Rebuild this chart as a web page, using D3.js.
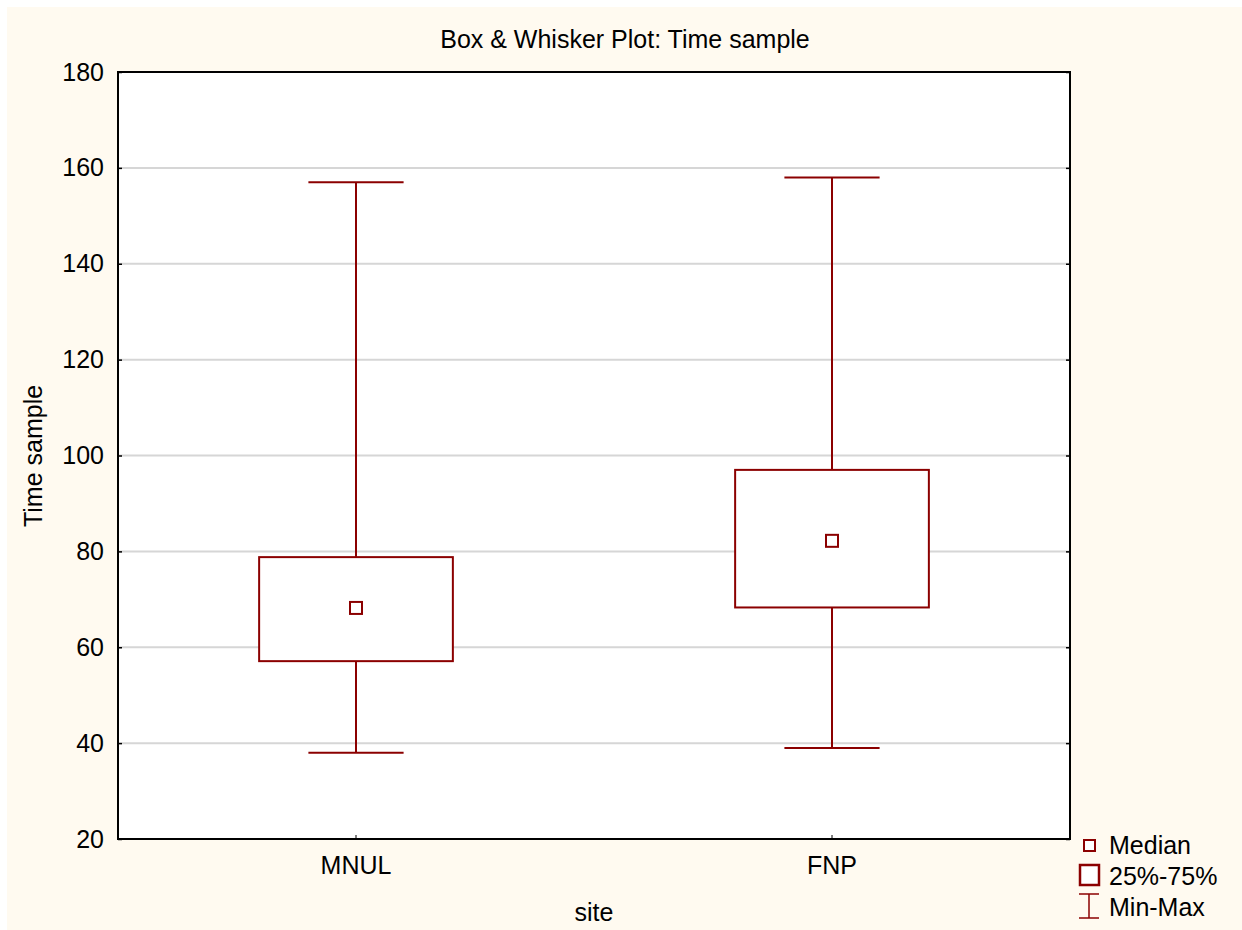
<!DOCTYPE html>
<html>
<head>
<meta charset="utf-8">
<script src="https://cdn.jsdelivr.net/npm/d3@7"></script>
<style>
  html, body { margin: 0; padding: 0; background: #ffffff; }
  svg { display: block; font-family: "Liberation Sans", Arial, sans-serif; }
</style>
</head>
<body>
<svg id="chart" width="1242" height="930"></svg>
<script>
// Per-site summary statistics for sampling time
const sites   = ["MNUL", "FNP"];
const minVals = [38, 39];
const q1Vals  = [57.1, 68.3];
const medians = [68.2, 82.2];
const q3Vals  = [78.8, 97];
const maxVals = [157, 158];
const yTicks  = [20, 40, 60, 80, 100, 120, 140, 160, 180];

const W = 1242, H = 930;
const margin = { left: 118, top: 72, right: 1070, bottom: 839 };
const color = "#8b0000";
const FS = 25;

const svg = d3.select("#chart");

// background panel
svg.append("rect").attr("x", 7).attr("y", 7).attr("width", W - 7).attr("height", H - 7)
  .attr("fill", "#fffaf0");
svg.append("rect").attr("x", margin.left).attr("y", margin.top)
  .attr("width", margin.right - margin.left).attr("height", margin.bottom - margin.top)
  .attr("fill", "#ffffff");

const x = d3.scaleBand().domain(sites).range([margin.left, margin.right]);
const y = d3.scaleLinear().domain([20, 180]).range([margin.bottom, margin.top]);

// horizontal gridlines
svg.append("g").selectAll("line").data(yTicks.slice(1, -1)).join("line")
  .attr("x1", margin.left).attr("x2", margin.right)
  .attr("y1", d => y(d)).attr("y2", d => y(d))
  .attr("stroke", "#d6d6d6").attr("stroke-width", 2);

// left axis with inward ticks
const yAxis = svg.append("g").attr("transform", `translate(${margin.left},0)`)
  .call(d3.axisLeft(y).tickValues(yTicks).tickSize(-4).tickPadding(14).tickSizeOuter(0));
yAxis.select(".domain").remove();
yAxis.selectAll("line").attr("stroke", "#000").attr("stroke-width", 1.5);
yAxis.selectAll("text").attr("font-size", FS).attr("fill", "#000")
  .attr("font-family", "Liberation Sans, Arial, sans-serif");

// right axis ticks
const yAxisR = svg.append("g").attr("transform", `translate(${margin.right},0)`)
  .call(d3.axisRight(y).tickValues(yTicks).tickSize(-4).tickFormat("").tickSizeOuter(0));
yAxisR.select(".domain").remove();
yAxisR.selectAll("line").attr("stroke", "#000").attr("stroke-width", 1.5);

// bottom axis
const xAxis = svg.append("g").attr("transform", `translate(0,${margin.bottom})`)
  .call(d3.axisBottom(x).tickSize(-4).tickPadding(17).tickSizeOuter(0));
xAxis.select(".domain").remove();
xAxis.selectAll("line").attr("stroke", "#000").attr("stroke-width", 1);
xAxis.selectAll("text").attr("font-size", FS).attr("fill", "#000")
  .attr("font-family", "Liberation Sans, Arial, sans-serif");

// plot frame
svg.append("rect").attr("x", margin.left).attr("y", margin.top)
  .attr("width", margin.right - margin.left).attr("height", margin.bottom - margin.top)
  .attr("fill", "none").attr("stroke", "#000").attr("stroke-width", 2);

// boxes and whiskers
const bw = x.bandwidth();
const boxW = bw * 0.407;
const capW = bw * 0.2;
const g = svg.append("g");
sites.forEach((s, i) => {
  const cx = x(s) + bw / 2;
  // whiskers
  g.append("line").attr("x1", cx).attr("x2", cx).attr("y1", y(maxVals[i])).attr("y2", y(q3Vals[i]))
    .attr("stroke", color).attr("stroke-width", 2);
  g.append("line").attr("x1", cx).attr("x2", cx).attr("y1", y(q1Vals[i])).attr("y2", y(minVals[i]))
    .attr("stroke", color).attr("stroke-width", 2);
  g.append("line").attr("x1", cx - capW / 2).attr("x2", cx + capW / 2)
    .attr("y1", y(maxVals[i])).attr("y2", y(maxVals[i])).attr("stroke", color).attr("stroke-width", 2);
  g.append("line").attr("x1", cx - capW / 2).attr("x2", cx + capW / 2)
    .attr("y1", y(minVals[i])).attr("y2", y(minVals[i])).attr("stroke", color).attr("stroke-width", 2);
  // box
  g.append("rect").attr("x", cx - boxW / 2).attr("y", y(q3Vals[i]))
    .attr("width", boxW).attr("height", y(q1Vals[i]) - y(q3Vals[i]))
    .attr("fill", "#ffffff").attr("stroke", color).attr("stroke-width", 2);
  // median marker
  g.append("rect").attr("x", cx - 6).attr("y", y(medians[i]) - 6)
    .attr("width", 12).attr("height", 12)
    .attr("fill", "#ffffff").attr("stroke", color).attr("stroke-width", 2);
});

// title and axis labels
svg.append("text").attr("x", 625).attr("y", 48).attr("text-anchor", "middle")
  .attr("font-size", FS).attr("fill", "#000").text("Box & Whisker Plot: Time sample");
svg.append("text").attr("x", 594).attr("y", 921).attr("text-anchor", "middle")
  .attr("font-size", FS).attr("fill", "#000").text("site");
svg.append("text").attr("transform", "translate(42,456) rotate(-90)").attr("text-anchor", "middle")
  .attr("font-size", FS).attr("fill", "#000").text("Time sample");

// legend
const lg = svg.append("g").attr("font-size", FS).attr("fill", "#000");
lg.append("rect").attr("x", 1084).attr("y", 840).attr("width", 11).attr("height", 11)
  .attr("fill", "#fff").attr("stroke", color).attr("stroke-width", 2);
lg.append("text").attr("x", 1109).attr("y", 854).text("Median");
lg.append("rect").attr("x", 1080).attr("y", 865).attr("width", 19).attr("height", 20)
  .attr("fill", "#fff").attr("stroke", color).attr("stroke-width", 2.5);
lg.append("text").attr("x", 1109).attr("y", 885).text("25%-75%");
lg.append("line").attr("x1", 1079).attr("x2", 1099).attr("y1", 894).attr("y2", 894).attr("stroke", color).attr("stroke-width", 1.5);
lg.append("line").attr("x1", 1079).attr("x2", 1099).attr("y1", 918).attr("y2", 918).attr("stroke", color).attr("stroke-width", 1.5);
lg.append("line").attr("x1", 1089).attr("x2", 1089).attr("y1", 894).attr("y2", 918).attr("stroke", color).attr("stroke-width", 1.5);
lg.append("text").attr("x", 1109).attr("y", 916).text("Min-Max");
</script>
</body>
</html>
